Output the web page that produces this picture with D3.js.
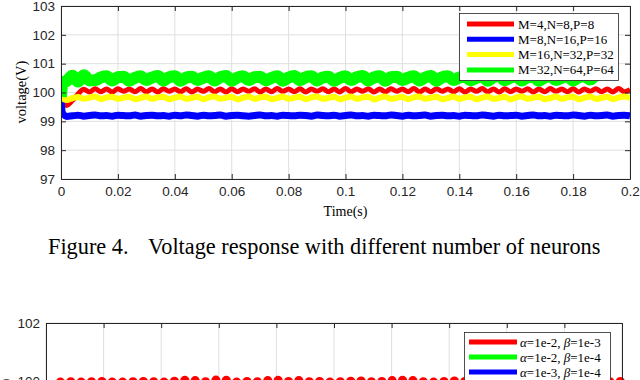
<!DOCTYPE html>
<html>
<head>
<meta charset="utf-8">
<script src="https://cdn.jsdelivr.net/npm/d3@7"></script>
<style>
  body { margin: 0; background: #fff; }
  svg { display: block; }
</style>
</head>
<body>
<svg id="chart" width="640" height="380"></svg>
<script>
// ---- data ----
const time = [0, 0.0005,
  0.002, 0.004, 0.006, 0.008, 0.010, 0.012, 0.014, 0.016, 0.018, 0.020,
  0.022, 0.024, 0.026, 0.028, 0.030, 0.032, 0.034, 0.036, 0.038, 0.040,
  0.042, 0.044, 0.046, 0.048, 0.050, 0.052, 0.054, 0.056, 0.058, 0.060,
  0.062, 0.064, 0.066, 0.068, 0.070, 0.072, 0.074, 0.076, 0.078, 0.080,
  0.082, 0.084, 0.086, 0.088, 0.090, 0.092, 0.094, 0.096, 0.098, 0.100,
  0.102, 0.104, 0.106, 0.108, 0.110, 0.112, 0.114, 0.116, 0.118, 0.120,
  0.122, 0.124, 0.126, 0.128, 0.130, 0.132, 0.134, 0.136, 0.138, 0.140,
  0.142, 0.144, 0.146, 0.148, 0.150, 0.152, 0.154, 0.156, 0.158, 0.160,
  0.162, 0.164, 0.166, 0.168, 0.170, 0.172, 0.174, 0.176, 0.178, 0.180,
  0.182, 0.184, 0.186, 0.188, 0.190, 0.192, 0.194, 0.196, 0.198, 0.200];

const vRed = [99.85, 99.65,
  99.55, 99.72, 99.95, 100.11, 100.02, 100.13, 100.03, 100.12, 100.02, 100.13,
  100.04, 100.12, 100.03, 100.14, 100.03, 100.12, 100.02, 100.13, 100.04, 100.12,
  100.03, 100.13, 100.02, 100.12, 100.04, 100.14, 100.03, 100.12, 100.02, 100.13,
  100.03, 100.12, 100.04, 100.13, 100.02, 100.12, 100.03, 100.14, 100.04, 100.12,
  100.03, 100.13, 100.02, 100.12, 100.04, 100.13, 100.03, 100.12, 100.02, 100.14,
  100.03, 100.12, 100.04, 100.13, 100.02, 100.12, 100.03, 100.13, 100.04, 100.12,
  100.03, 100.14, 100.02, 100.12, 100.03, 100.13, 100.04, 100.12, 100.03, 100.13,
  100.02, 100.12, 100.04, 100.14, 100.03, 100.12, 100.02, 100.13, 100.03, 100.12,
  100.04, 100.13, 100.02, 100.12, 100.03, 100.14, 100.04, 100.12, 100.03, 100.13,
  100.02, 100.12, 100.04, 100.13, 100.03, 100.12, 100.02, 100.14, 100.03, 100.10];

const vBlue = [99.95, 99.30,
  99.17, 99.19, 99.21, 99.18, 99.20, 99.22, 99.19, 99.20, 99.18, 99.21,
  99.20, 99.19, 99.22, 99.18, 99.20, 99.21, 99.19, 99.20, 99.18, 99.21,
  99.19, 99.22, 99.20, 99.18, 99.21, 99.19, 99.20, 99.22, 99.18, 99.20,
  99.21, 99.19, 99.18, 99.20, 99.22, 99.19, 99.20, 99.18, 99.21, 99.20,
  99.19, 99.21, 99.20, 99.18, 99.22, 99.20, 99.19, 99.21, 99.18, 99.20,
  99.22, 99.19, 99.20, 99.18, 99.21, 99.20, 99.19, 99.22, 99.20, 99.18,
  99.21, 99.19, 99.20, 99.22, 99.18, 99.20, 99.21, 99.19, 99.20, 99.18,
  99.21, 99.20, 99.19, 99.22, 99.20, 99.18, 99.21, 99.19, 99.20, 99.21,
  99.18, 99.20, 99.22, 99.19, 99.20, 99.18, 99.21, 99.20, 99.19, 99.22,
  99.20, 99.18, 99.21, 99.19, 99.20, 99.22, 99.18, 99.20, 99.21, 99.19];

const vYellow = [99.85, 99.80,
  99.74, 99.80, 99.84, 99.78, 99.82, 99.86, 99.77, 99.83, 99.85, 99.78,
  99.82, 99.85, 99.77, 99.81, 99.86, 99.78, 99.83, 99.85, 99.77, 99.82,
  99.86, 99.78, 99.81, 99.85, 99.77, 99.83, 99.86, 99.78, 99.82, 99.85,
  99.76, 99.82, 99.86, 99.78, 99.83, 99.85, 99.77, 99.81, 99.86, 99.78,
  99.82, 99.85, 99.77, 99.83, 99.86, 99.78, 99.81, 99.85, 99.77, 99.82,
  99.86, 99.78, 99.83, 99.85, 99.76, 99.82, 99.86, 99.78, 99.81, 99.85,
  99.77, 99.83, 99.86, 99.78, 99.82, 99.85, 99.77, 99.81, 99.86, 99.78,
  99.83, 99.85, 99.77, 99.82, 99.86, 99.78, 99.81, 99.85, 99.76, 99.83,
  99.86, 99.78, 99.82, 99.85, 99.77, 99.81, 99.86, 99.78, 99.83, 99.85,
  99.77, 99.82, 99.86, 99.78, 99.81, 99.85, 99.77, 99.83, 99.86, 99.80];

const vGreen = [99.85, 100.35,
  100.40, 100.58, 100.38, 100.60, 100.42,
  100.43, 100.52, 100.56, 100.42, 100.53, 100.55, 100.41, 100.51, 100.56,
  100.43, 100.52, 100.57, 100.42, 100.53, 100.56, 100.41, 100.52, 100.55,
  100.43, 100.51, 100.56, 100.42, 100.53, 100.57, 100.41, 100.52, 100.56,
  100.43, 100.53, 100.55, 100.42, 100.51, 100.56, 100.41, 100.52, 100.57,
  100.43, 100.53, 100.56, 100.42, 100.52, 100.55, 100.41, 100.51, 100.56,
  100.43, 100.53, 100.57, 100.42, 100.52, 100.56, 100.41, 100.53, 100.55,
  100.43, 100.51, 100.56, 100.42, 100.52, 100.57, 100.41, 100.53, 100.56,
  100.43, 100.52, 100.55, 100.42, 100.51, 100.56, 100.41, 100.53, 100.57,
  100.43, 100.52, 100.56, 100.42, 100.53, 100.55, 100.41, 100.52, 100.56,
  100.43, 100.51, 100.57, 100.42, 100.53, 100.56,
  100.45, 100.62];

const seriesLabels = ["M=4,N=8,P=8", "M=8,N=16,P=16", "M=16,N=32,P=32", "M=32,N=64,P=64"];
const seriesColors = ["#ff0000", "#0000ff", "#ffff00", "#00ff00"];
const seriesValues = [vRed, vBlue, vYellow, vGreen];
const seriesWidths = [5, 7, 6, 12];

const xTicks = [0, 0.02, 0.04, 0.06, 0.08, 0.1, 0.12, 0.14, 0.16, 0.18, 0.2];
const yTicksTop = [97, 98, 99, 100, 101, 102, 103];

// second figure (cut off at the bottom of the page)
const markerTime = [0.0050, 0.0086, 0.0122, 0.0158, 0.0194, 0.0230, 0.0266, 0.0302, 0.0338, 0.0374,
  0.0410, 0.0446, 0.0482, 0.0518, 0.0554, 0.0590, 0.0626, 0.0662, 0.0698, 0.0734,
  0.0770, 0.0806, 0.0842, 0.0878, 0.0914, 0.0950, 0.0986, 0.1022, 0.1058, 0.1094,
  0.1130, 0.1166, 0.1202, 0.1238, 0.1274, 0.1310, 0.1346, 0.1382, 0.1418, 0.1454,
  0.1490, 0.1526, 0.1562, 0.1598, 0.1634, 0.1670, 0.1706, 0.1742, 0.1778, 0.1814,
  0.1850, 0.1886, 0.1922, 0.1958, 0.1994];
const markerRed = [99.96, 99.97, 99.96, 99.97, 99.98, 99.96, 99.96, 99.97, 99.98, 99.97,
  99.96, 99.99, 100.02, 100.01, 99.97, 100.03, 100.02, 99.96, 99.98, 99.97,
  100.01, 100.02, 99.98, 100.01, 99.97, 99.98, 99.96, 99.97, 99.99, 100.00,
  99.97, 99.98, 100.01, 100.02, 100.01, 99.97, 99.96, 99.98, 100.00, 99.98,
  99.97, 99.99, 99.97, 99.98, 100.00, 99.97, 99.98, 99.97, 99.96, 99.98,
  99.97, 99.98, 99.99, 99.97, 99.98];
const yTicksBottom = [96, 98, 100, 102];
const legend2Alpha = ["1e-2", "1e-2", "1e-3"];
const legend2Beta = ["1e-3", "1e-4", "1e-4"];
const legend2Colors = ["#ff0000", "#00ff00", "#0000ff"];

// ---- drawing ----
const svg = d3.select("#chart");
svg.append("rect").attr("width", 640).attr("height", 380).attr("fill", "#fff");

const axisColor = "#262626";
const gridColor = "#dfdfdf";
const tickFont = "'Liberation Sans', Arial, sans-serif";
const serif = "'Liberation Serif', 'Times New Roman', serif";

const fmtX = d => String(+d.toFixed(2));

function drawGrid(g, x, y, xt, yt) {
  const [ya, yb] = y.range();
  const [xa, xb] = x.range();
  g.append("g").selectAll("line").data(xt).join("line")
    .attr("x1", d => x(d)).attr("x2", d => x(d))
    .attr("y1", ya).attr("y2", yb)
    .attr("stroke", gridColor).attr("stroke-width", 1);
  g.append("g").selectAll("line").data(yt).join("line")
    .attr("x1", xa).attr("x2", xb)
    .attr("y1", d => y(d)).attr("y2", d => y(d))
    .attr("stroke", gridColor).attr("stroke-width", 1);
}

function drawAxes(g, x, y, xt, yt, showX) {
  const [ya, yb] = y.range();
  const [xa, xb] = x.range();
  const style = sel => sel.attr("color", axisColor)
    .attr("font-family", tickFont).attr("font-size", 13.5)
    .call(s => s.selectAll(".tick text").attr("fill", axisColor));

  g.append("g").attr("transform", `translate(0,${ya})`)
    .call(d3.axisBottom(x).tickValues(xt).tickSize(-5).tickSizeOuter(0)
      .tickPadding(7).tickFormat(showX ? fmtX : ""))
    .call(style);
  g.append("g").attr("transform", `translate(0,${yb})`)
    .call(d3.axisTop(x).tickValues(xt).tickSize(-5).tickSizeOuter(0).tickFormat(""))
    .call(style);
  g.append("g").attr("transform", `translate(${xa},0)`)
    .call(d3.axisLeft(y).tickValues(yt).tickSize(-5).tickSizeOuter(0)
      .tickPadding(6).tickFormat(d3.format("d")))
    .call(style);
  g.append("g").attr("transform", `translate(${xb},0)`)
    .call(d3.axisRight(y).tickValues(yt).tickSize(-5).tickSizeOuter(0).tickFormat(""))
    .call(style);
}

// top chart
const xTop = d3.scaleLinear().domain([0, 0.2]).range([61, 630]);
const yTop = d3.scaleLinear().domain([97, 103]).range([179, 6]);
const gTop = svg.append("g");

drawGrid(gTop, xTop, yTop, xTicks, yTicksTop);

svg.append("clipPath").attr("id", "clipTop")
  .append("rect").attr("x", 61).attr("y", 6).attr("width", 569).attr("height", 173);

const lineTop = d3.line()
  .x((d, i) => xTop(time[i]))
  .y(d => yTop(d))
  .curve(d3.curveMonotoneX);

gTop.append("g").attr("clip-path", "url(#clipTop)")
  .selectAll("path").data(seriesValues).join("path")
  .attr("d", d => lineTop(d))
  .attr("fill", "none")
  .attr("stroke", (d, i) => seriesColors[i])
  .attr("stroke-width", (d, i) => seriesWidths[i])
  .attr("stroke-linejoin", "round");

drawAxes(gTop, xTop, yTop, xTicks, yTicksTop, true);

// legend top
const leg = gTop.append("g");
leg.append("rect").attr("x", 459.5).attr("y", 13.5).attr("width", 159).attr("height", 67)
  .attr("fill", "#fff").attr("stroke", axisColor).attr("stroke-width", 0.8);
seriesLabels.forEach((lab, i) => {
  const cy = 24 + i * 15.3;
  leg.append("line").attr("x1", 467).attr("x2", 514).attr("y1", cy).attr("y2", cy)
    .attr("stroke", seriesColors[i]).attr("stroke-width", 5);
  leg.append("text").attr("x", 518).attr("y", cy + 4.5)
    .attr("font-family", serif).attr("font-size", 13).attr("fill", "#000").text(lab);
});

// axis titles
gTop.append("text").attr("x", 345.5).attr("y", 216).attr("text-anchor", "middle")
  .attr("font-family", serif).attr("font-size", 14).attr("fill", "#000").text("Time(s)");
gTop.append("text").attr("transform", "translate(26,92) rotate(-90)").attr("text-anchor", "middle")
  .attr("font-family", serif).attr("font-size", 14.5).attr("fill", "#000").text("voltage(V)");

// caption
svg.append("text").attr("x", 48).attr("y", 254)
  .attr("font-family", serif).attr("font-size", 22.3).attr("fill", "#000").text("Figure 4.");
svg.append("text").attr("x", 148).attr("y", 254)
  .attr("font-family", serif).attr("font-size", 22.3).attr("fill", "#000")
  .text("Voltage response with different number of neurons");

// bottom chart
const xBot = d3.scaleLinear().domain([0, 0.2]).range([46, 622]);
const yBot = d3.scaleLinear().domain([96, 102]).range([497, 323]);
const gBot = svg.append("g");
drawGrid(gBot, xBot, yBot, xTicks, yTicksBottom);

gBot.append("g").selectAll("circle").data(markerRed).join("circle")
  .attr("cx", (d, i) => xBot(markerTime[i]))
  .attr("cy", d => yBot(d))
  .attr("r", 4.6)
  .attr("fill", "#ff0000");

drawAxes(gBot, xBot, yBot, xTicks, yTicksBottom, false);

const leg2 = gBot.append("g");
leg2.append("rect").attr("x", 464.5).attr("y", 332.5).attr("width", 146).attr("height", 52)
  .attr("fill", "#fff").attr("stroke", axisColor).attr("stroke-width", 0.8);
legend2Alpha.forEach((a, i) => {
  const cy = 342 + i * 15;
  leg2.append("line").attr("x1", 469).attr("x2", 517).attr("y1", cy).attr("y2", cy)
    .attr("stroke", legend2Colors[i]).attr("stroke-width", 5);
  const t = leg2.append("text").attr("x", 520).attr("y", cy + 4.5)
    .attr("font-family", serif).attr("font-size", 13).attr("fill", "#000");
  t.append("tspan").attr("font-style", "italic").text("\u03b1");
  t.append("tspan").text(`=${a}, `);
  t.append("tspan").attr("font-style", "italic").text("\u03b2");
  t.append("tspan").text(`=${legend2Beta[i]}`);
});

gBot.append("text").attr("transform", "translate(10,410) rotate(-90)").attr("text-anchor", "middle")
  .attr("font-family", serif).attr("font-size", 14.5).attr("fill", "#000").text("voltage(V)");
</script>
</body>
</html>
